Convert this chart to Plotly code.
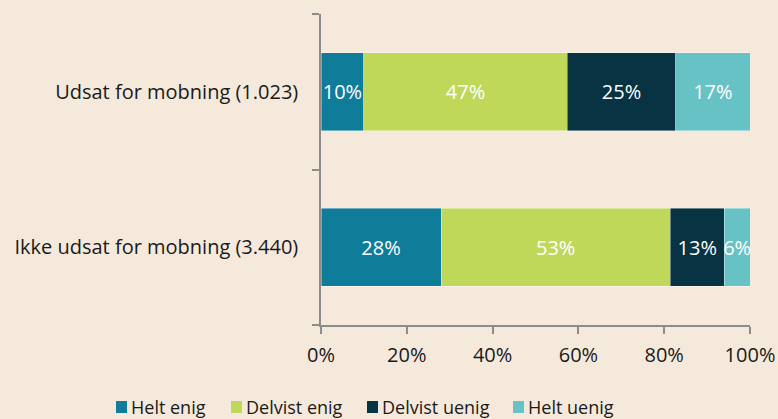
import plotly.graph_objects as go

categories = ["Udsat for mobning (1.023)", "Ikke udsat for mobning (3.440)"]
series_names = ["Helt enig", "Delvist enig", "Delvist uenig", "Helt uenig"]
helt_enig = [10.0, 28.0]
delvist_enig = [47.4, 53.4]
delvist_uenig = [25.3, 12.6]
helt_uenig = [17.3, 6.0]
x_ticks = [0, 20, 40, 60, 80, 100]

colors = ["#0F7C99", "#BFD85A", "#073342", "#67C2C5"]
bg = "#F5E9DC"
font_family = "Open Sans, Noto Sans, sans-serif"
W, H = 778, 419
ML, MR, MT, MB = 321, 28, 14, 94

fig = go.Figure()
for name, vals, col in zip(series_names, [helt_enig, delvist_enig, delvist_uenig, helt_uenig], colors):
    fig.add_trace(go.Bar(
        y=categories, x=vals, name=name, orientation="h",
        marker=dict(color=col, line=dict(color="rgba(255,255,255,0.5)", width=0.8)),
        text=[f"{v:.0f}%" for v in vals],
        textposition="inside", insidetextanchor="middle", textangle=0,
        constraintext="none",
        textfont=dict(color="white", size=20, family=font_family),
        hoverinfo="skip", showlegend=False,
    ))

# custom legend (square swatch + label), positioned in pixels below the axis
pw, ph = W - ML - MR, H - MT - MB
def px_to_paper_x(px):
    return (px - ML) / pw
def px_to_paper_y(py):
    return (H - MB - py) / ph

legend_x = [116, 231, 367, 513]
legend_y = 407
for name, col, lx in zip(series_names, colors, legend_x):
    fig.add_shape(type="rect", xref="paper", yref="paper",
                  x0=px_to_paper_x(lx), x1=px_to_paper_x(lx + 11),
                  y0=px_to_paper_y(legend_y + 6), y1=px_to_paper_y(legend_y - 6),
                  fillcolor=col, line=dict(width=0))
    fig.add_annotation(xref="paper", yref="paper", x=px_to_paper_x(lx + 14), y=px_to_paper_y(legend_y),
                       xanchor="left", yanchor="middle", text=name, showarrow=False,
                       borderpad=0,
                       font=dict(size=18, family=font_family, color="#1A1A1A"))

fig.update_layout(
    barmode="stack",
    bargap=0.5,
    width=W, height=H,
    margin=dict(l=ML, r=MR, t=MT, b=MB),
    paper_bgcolor=bg, plot_bgcolor=bg,
    font=dict(family=font_family, size=20, color="#1A1A1A"),
    showlegend=False,
    xaxis=dict(range=[0, 100], tickvals=x_ticks, ticktext=[f"{t}%" for t in x_ticks],
               showgrid=False, zeroline=False, showline=True, linecolor="#8C8C8C", linewidth=1.5,
               ticks="outside", ticklen=7, tickcolor="#8C8C8C", tickwidth=1.5,
               automargin=False, ticklabelstandoff=4),
    yaxis=dict(categoryorder="array", categoryarray=categories[::-1],
               showgrid=False, zeroline=False, showline=True, linecolor="#8C8C8C", linewidth=1.5,
               ticks="outside", ticklen=7, tickcolor="#8C8C8C", tickwidth=1.5,
               tickson="boundaries", automargin=False, ticklabelstandoff=17),
)

fig.write_html("out.html", config={"displayModeBar": False},
               post_script="document.body.style.margin='0';document.body.style.overflow='hidden';")
